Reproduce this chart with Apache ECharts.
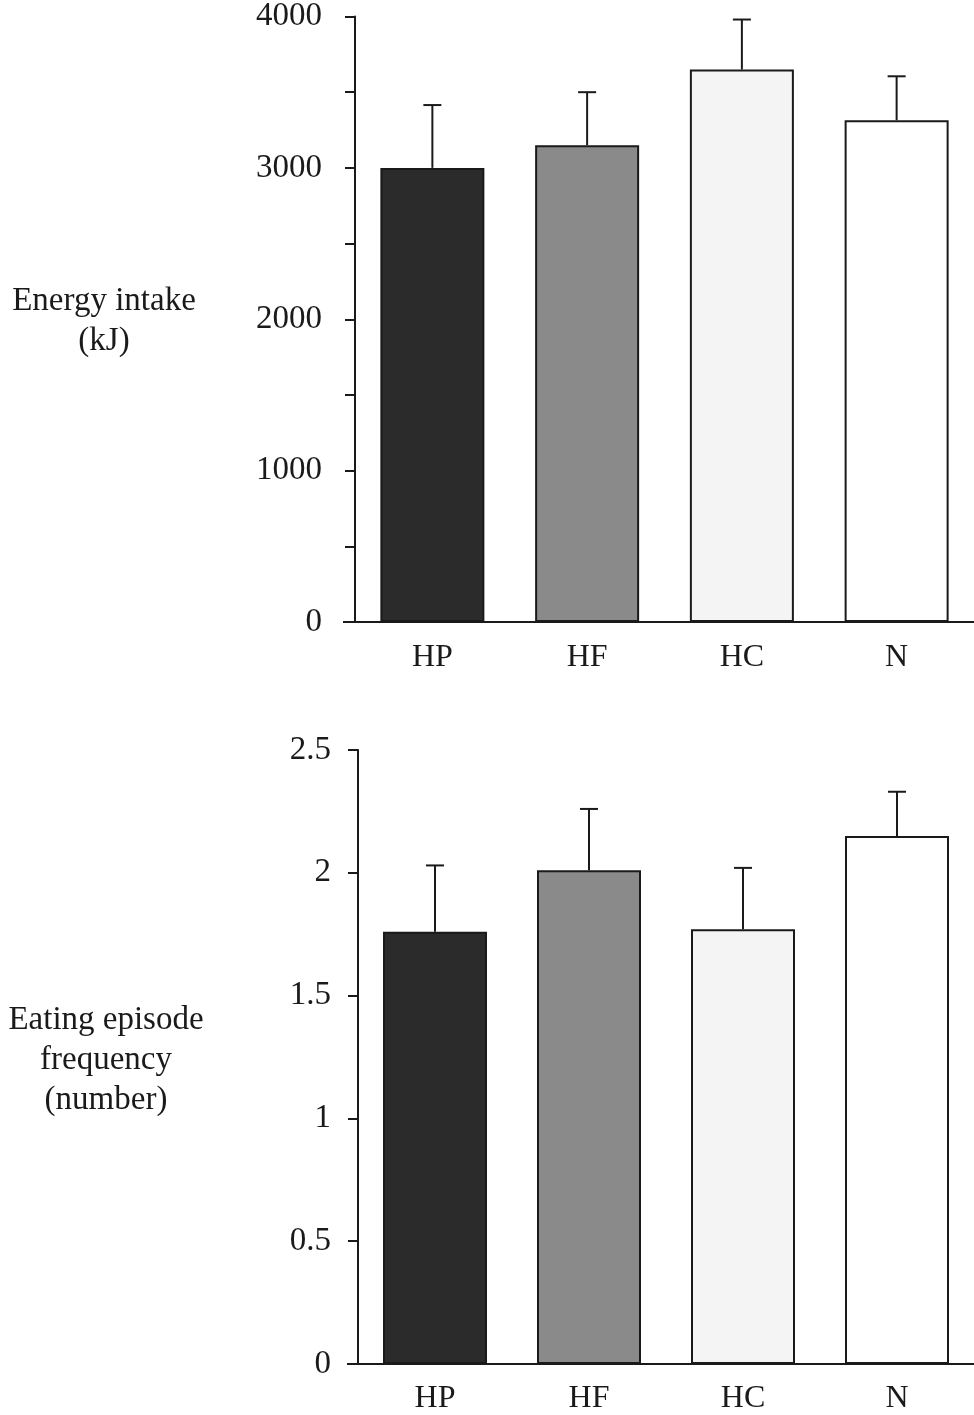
<!DOCTYPE html>
<html>
<head>
<meta charset="utf-8">
<script src="https://cdn.jsdelivr.net/npm/echarts@6/dist/echarts.min.js"></script>
<style>
  html, body { margin: 0; padding: 0; background: #fff; }
  #chart { width: 974px; height: 1415px; }
</style>
</head>
<body>
<div id="chart"></div>
<script>
// Diet groups
const categories = ['HP', 'HF', 'HC', 'N'];

// Energy intake (kJ): mean and SEM per group
const energyMean = [3000, 3150, 3650, 3315];
const energySem = [415, 350, 330, 290];

// Eating episode frequency (number): mean and SEM per group
const freqMean = [1.76, 2.01, 1.77, 2.15];
const freqSem = [0.27, 0.25, 0.25, 0.18];

// Fill of each group's bar
const barFills = ['#2b2b2b', '#8a8a8a', '#f4f4f4', '#ffffff'];

const FONT = 'Liberation Serif';
const INK = '#1a1a1a';

function yAxisCfg(gridIndex, max, interval, labelEvery, margin, dropPad) {
  return {
    type: 'value', gridIndex, min: 0, max, interval,
    axisLine: { show: true, lineStyle: { color: INK, width: 2 } },
    axisTick: { show: true, inside: false, length: 10, lineStyle: { color: INK, width: 2 } },
    splitLine: { show: false },
    axisLabel: {
      margin, color: INK, fontFamily: FONT, fontSize: 33, padding: [dropPad, 0, 0, 0],
      formatter: v => (Math.abs(v / labelEvery - Math.round(v / labelEvery)) < 1e-9 ? String(v) : '')
    }
  };
}

function xAxisCfg(gridIndex, margin) {
  return {
    type: 'category', gridIndex, data: categories,
    axisLine: { show: true, lineStyle: { color: INK, width: 2 } },
    axisTick: { show: false },
    axisLabel: { margin, color: INK, fontFamily: FONT, fontSize: 32 }
  };
}

function barSeries(idx, values) {
  return {
    type: 'bar', xAxisIndex: idx, yAxisIndex: idx, barWidth: 104,
    data: values.map((v, i) => ({
      value: v,
      itemStyle: { color: barFills[i], borderColor: INK, borderWidth: 2 }
    })),
    z: 2
  };
}

// Upward SEM whisker with a short cap
function errorSeries(idx, means, sems) {
  return {
    type: 'custom', xAxisIndex: idx, yAxisIndex: idx, z: 3,
    data: means.map((m, i) => [i, m, m + sems[i]]),
    renderItem: (params, api) => {
      const base = api.coord([api.value(0), api.value(1)]);
      const top = api.coord([api.value(0), api.value(2)]);
      const half = 9;
      const style = { stroke: INK, lineWidth: 2 };
      return {
        type: 'group',
        children: [
          { type: 'line', shape: { x1: base[0], y1: base[1], x2: top[0], y2: top[1] }, style },
          { type: 'line', shape: { x1: top[0] - half, y1: top[1], x2: top[0] + half, y2: top[1] }, style }
        ]
      };
    }
  };
}

const chart = echarts.init(document.getElementById('chart'), null, { renderer: 'canvas' });
chart.setOption({
  backgroundColor: '#ffffff',
  animation: false,
  grid: [
    { left: 355, top: 15, width: 623, height: 607 },
    { left: 358, top: 750, width: 623, height: 614 }
  ],
  xAxis: [xAxisCfg(0, 20), xAxisCfg(1, 19)],
  yAxis: [yAxisCfg(0, 4000, 500, 1000, 33, 10), yAxisCfg(1, 2.5, 0.5, 0.5, 27, 4)],
  graphic: [
    // x-axis baselines run a little past the value axis on the left
    { type: 'line', shape: { x1: 343, y1: 622, x2: 356, y2: 622 }, style: { stroke: INK, lineWidth: 2 } },
    { type: 'line', shape: { x1: 347, y1: 1364, x2: 359, y2: 1364 }, style: { stroke: INK, lineWidth: 2 } },
    {
      type: 'text', x: 104, y: 281,
      style: {
        text: 'Energy intake\n(kJ)', fill: INK, font: '33px "' + FONT + '"',
        align: 'center', verticalAlign: 'top', lineHeight: 40
      }
    },
    {
      type: 'text', x: 106, y: 1000,
      style: {
        text: 'Eating episode\nfrequency\n(number)', fill: INK, font: '33px "' + FONT + '"',
        align: 'center', verticalAlign: 'top', lineHeight: 40
      }
    }
  ],
  series: [
    barSeries(0, energyMean), errorSeries(0, energyMean, energySem),
    barSeries(1, freqMean), errorSeries(1, freqMean, freqSem)
  ]
});
</script>
</body>
</html>
